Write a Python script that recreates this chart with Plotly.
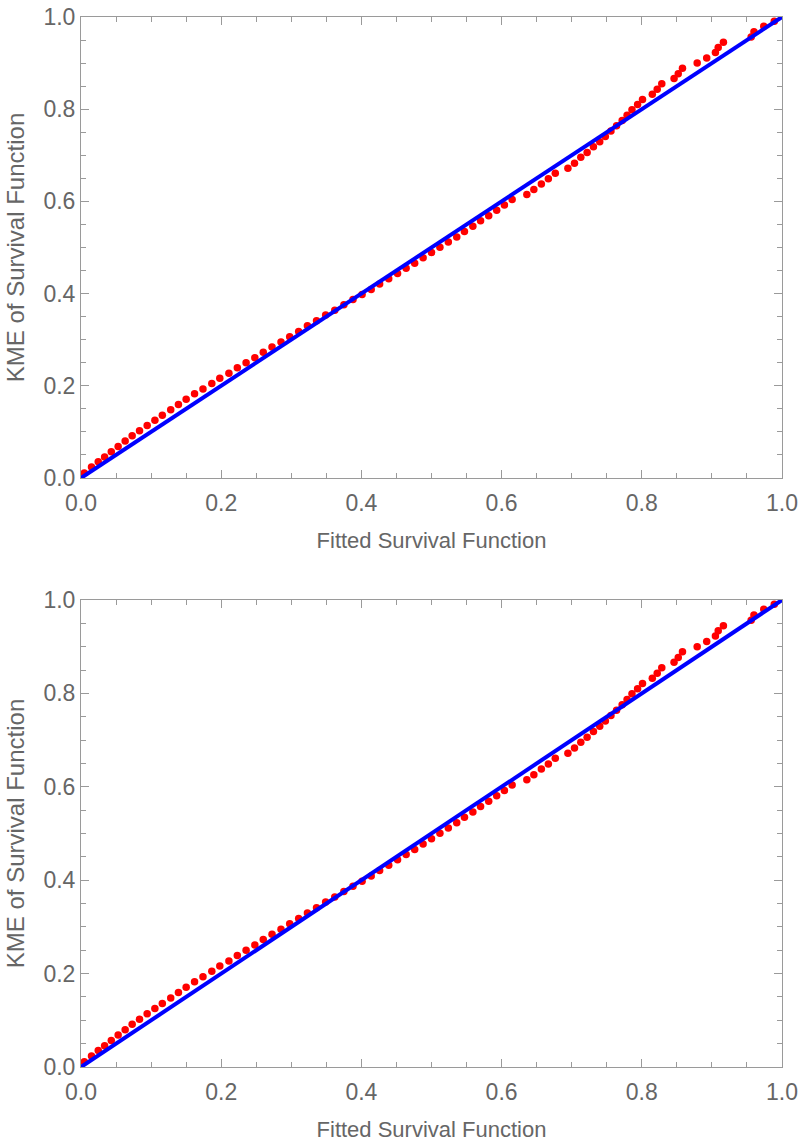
import plotly.graph_objects as go

# Fitted survival function (x) vs Kaplan-Meier estimate (y)
fitted = [0.0047, 0.015, 0.0246, 0.0337, 0.0432, 0.053, 0.063, 0.073, 0.0835, 0.0944,
          0.1054, 0.116, 0.128, 0.139, 0.150, 0.162, 0.174, 0.1866, 0.198, 0.211,
          0.223, 0.2355, 0.248, 0.260, 0.2725, 0.2853, 0.2977, 0.3105, 0.323, 0.336,
          0.349, 0.362, 0.375, 0.388, 0.401, 0.414, 0.426, 0.439, 0.4516, 0.4638,
          0.476, 0.488, 0.500, 0.512, 0.524, 0.536, 0.547, 0.559, 0.570, 0.5816,
          0.593, 0.604, 0.615, 0.636, 0.646, 0.6567, 0.6667, 0.6766, 0.6946, 0.704,
          0.713, 0.722, 0.731, 0.740, 0.748, 0.756, 0.764, 0.772, 0.779, 0.786,
          0.794, 0.801, 0.815, 0.822, 0.8285, 0.846, 0.852, 0.858, 0.879, 0.8926,
          0.905, 0.909, 0.9164, 0.956, 0.960, 0.974, 0.989]
kme = [0.011, 0.0238, 0.0354, 0.0455, 0.057, 0.0686, 0.080, 0.0916, 0.1025, 0.114,
       0.1255, 0.136, 0.148, 0.1595, 0.171, 0.1825, 0.193, 0.205, 0.2165, 0.227,
       0.239, 0.250, 0.261, 0.273, 0.284, 0.295, 0.3066, 0.318, 0.330, 0.341,
       0.3535, 0.364, 0.376, 0.387, 0.398, 0.409, 0.4206, 0.432, 0.4437, 0.455,
       0.466, 0.4776, 0.489, 0.5007, 0.512, 0.523, 0.5346, 0.546, 0.558, 0.569,
       0.581, 0.592, 0.604, 0.615, 0.626, 0.638, 0.649, 0.661, 0.672, 0.683,
       0.6955, 0.706, 0.7186, 0.7294, 0.741, 0.7525, 0.764, 0.7756, 0.787, 0.799,
       0.810, 0.821, 0.8326, 0.8434, 0.855, 0.8665, 0.877, 0.889, 0.900, 0.911,
       0.9228, 0.934, 0.945, 0.9567, 0.968, 0.980, 0.991]

line_x = [0.0, 1.0]
line_y = [0.0, 1.0]

x_title = "Fitted Survival Function"
y_title = "KME of Survival Function"

GRAY = "#666666"
AXIS = "#9a9a9a"
FONT = "Liberation Sans, Arial, sans-serif"

fig = go.Figure()

panels = [("x", "y"), ("x2", "y2")]
for xa, ya in panels:
    fig.add_trace(go.Scatter(x=fitted, y=kme, mode="markers", xaxis=xa, yaxis=ya,
                             marker=dict(color="#ff0000", size=7.5, line=dict(width=0)),
                             showlegend=False, cliponaxis=False))
    fig.add_trace(go.Scatter(x=line_x, y=line_y, mode="lines", xaxis=xa, yaxis=ya,
                             line=dict(color="#0000ff", width=4),
                             showlegend=False, cliponaxis=False))

def common():
    return dict(range=[0, 1], automargin=False,
                showgrid=False, zeroline=False, showline=True, linecolor=AXIS, linewidth=1,
                mirror="ticks", ticks="inside", ticklen=8, tickcolor=AXIS, tickwidth=1,
                dtick=0.2, tick0=0, tickformat=".1f",
                minor=dict(dtick=0.05, ticks="inside", ticklen=5, tickcolor=AXIS, tickwidth=1),
                tickfont=dict(family=FONT, size=23, color=GRAY))

def xaxis(anchor):
    d = common()
    d.update(domain=[81 / 801, 782 / 801], anchor=anchor, ticklabelstandoff=4,
             title=dict(text=x_title, font=dict(family=FONT, size=22, color=GRAY), standoff=18))
    return d

def yaxis(anchor, top_px, bot_px):
    d = common()
    d.update(domain=[1 - bot_px / 1143, 1 - top_px / 1143], anchor=anchor,
             title=dict(text=y_title, font=dict(family=FONT, size=24, color=GRAY), standoff=12))
    return d

fig.update_layout(
    width=801, height=1143,
    margin=dict(l=0, r=0, t=0, b=0),
    paper_bgcolor="white", plot_bgcolor="white",
    xaxis=xaxis("y"), yaxis=yaxis("x", 17, 478),
    xaxis2=xaxis("y2"), yaxis2=yaxis("x2", 600, 1067),
)

fig.write_html("out.html", config={"displayModeBar": False},
               post_script="document.body.style.margin='0';document.body.style.overflow='hidden';")
